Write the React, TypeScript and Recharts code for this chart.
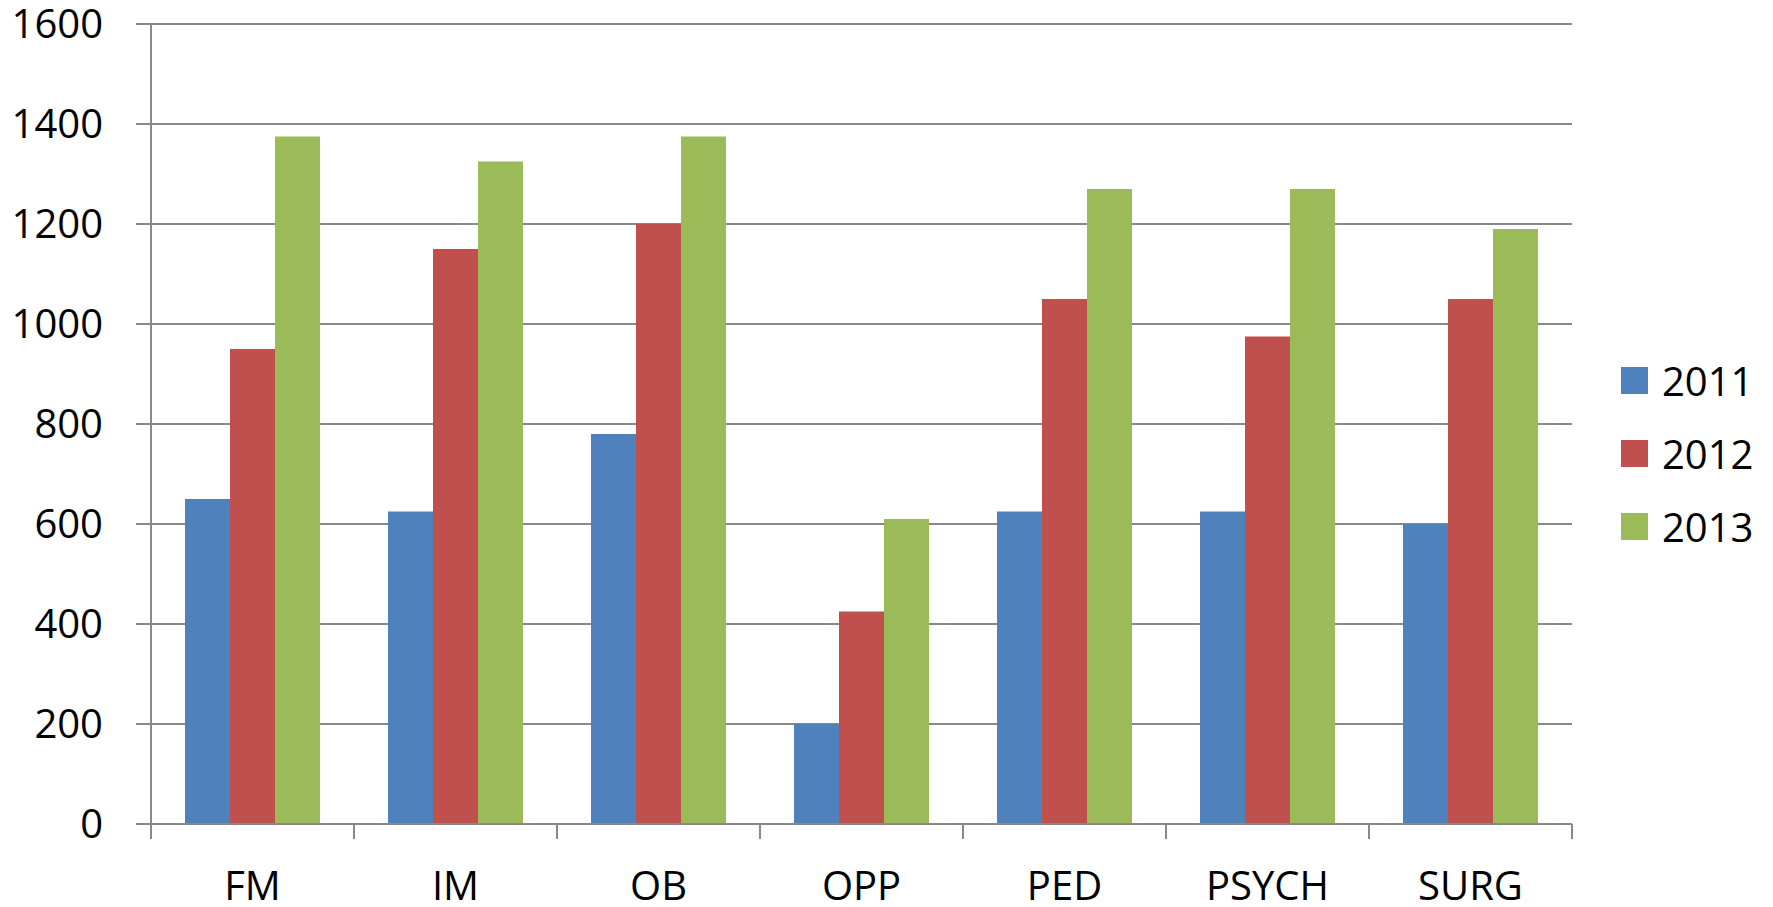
import { BarChart, Bar, XAxis, YAxis, CartesianGrid, Legend } from 'recharts';

const categories = ['FM', 'IM', 'OB', 'OPP', 'PED', 'PSYCH', 'SURG'];
const values2011 = [650, 625, 780, 200, 625, 625, 600];
const values2012 = [950, 1150, 1200, 425, 1050, 975, 1050];
const values2013 = [1375, 1325, 1375, 610, 1270, 1270, 1190];
const yTicks = [0, 200, 400, 600, 800, 1000, 1200, 1400, 1600];

const series = [
  { key: 'y2011', name: '2011', color: '#4F81BD' },
  { key: 'y2012', name: '2012', color: '#C0504D' },
  { key: 'y2013', name: '2013', color: '#9BBB59' },
];

const data = categories.map((c, i) => ({
  name: c,
  y2011: values2011[i],
  y2012: values2012[i],
  y2013: values2013[i],
}));

const W = 1773;
const H = 907;
const AXIS = '#898989';
const FONT = '"Open Sans", sans-serif';
const PLOT_LEFT = 151;
const PLOT_RIGHT = 1572;
const PLOT_BOTTOM = 824;
const BAND = (PLOT_RIGHT - PLOT_LEFT) / categories.length;

// category labels sit in the middle, tick marks on the band edges
const XTick = (props: any) => {
  const { x, payload, index } = props;
  const last = index === categories.length - 1;
  return (
    <g>
      <line x1={x - BAND / 2} x2={x - BAND / 2} y1={PLOT_BOTTOM} y2={PLOT_BOTTOM + 15} stroke={AXIS} strokeWidth={2} />
      {last && (
        <line x1={x + BAND / 2} x2={x + BAND / 2} y1={PLOT_BOTTOM} y2={PLOT_BOTTOM + 15} stroke={AXIS} strokeWidth={2} />
      )}
      <text x={x} y={PLOT_BOTTOM + 60} textAnchor="middle" dominantBaseline="central" fontSize={40} fontFamily={FONT} fill="#000">
        {payload.value}
      </text>
    </g>
  );
};

const LegendContent = () => (
  <div style={{ width: 186, paddingTop: 0, fontFamily: FONT }}>
    {series.map((s) => (
      <div key={s.key} style={{ height: 73, display: 'flex', alignItems: 'center' }}>
        <div style={{ width: 27, height: 27, background: s.color, marginLeft: 49, marginRight: 14 }} />
        <span style={{ fontSize: 40, color: '#000', lineHeight: 1 }}>{s.name}</span>
      </div>
    ))}
  </div>
);

export default function App() {
  return (
    <div style={{ position: 'absolute', left: 0, top: 0, width: W, height: H, background: '#fff' }}>
      <BarChart
        width={W}
        height={H}
        data={data}
        margin={{ top: 24, right: 15, bottom: 0, left: 0 }}
        barGap={0}
        barCategoryGap={34}
      >
        <CartesianGrid vertical={false} stroke={AXIS} strokeWidth={2} />
        <XAxis
          dataKey="name"
          height={83}
          axisLine={{ stroke: AXIS, strokeWidth: 2 }}
          tickLine={false}
          tick={<XTick />}
          interval={0}
        />
        <YAxis
          width={151}
          domain={[0, 1600]}
          ticks={yTicks}
          axisLine={{ stroke: AXIS, strokeWidth: 2 }}
          tickLine={{ stroke: AXIS, strokeWidth: 2 }}
          tickSize={15}
          tickMargin={33}
          tick={{ fontSize: 40, fontFamily: FONT, fill: '#000' }}
        />
        <Legend layout="vertical" align="right" verticalAlign="middle" width={186} content={<LegendContent />} />
        {series.map((s) => (
          <Bar key={s.key} dataKey={s.key} name={s.name} fill={s.color} isAnimationActive={false} />
        ))}
      </BarChart>
    </div>
  );
}
